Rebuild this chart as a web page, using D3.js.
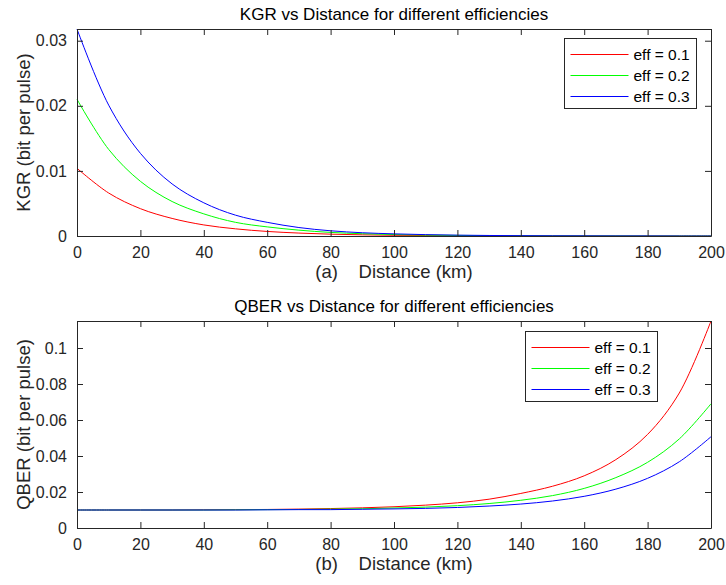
<!DOCTYPE html>
<html>
<head>
<meta charset="utf-8">
<script src="https://cdn.jsdelivr.net/npm/d3@7"></script>
<style>
  body { margin: 0; background: #fff; }
  svg { display: block; font-family: "Liberation Sans", Arial, sans-serif; }
</style>
</head>
<body>
<svg id="chart" width="726" height="585"></svg>
<script>
// distance in km, same grid for every series
var distance = [0, 10, 20, 30, 40, 50, 60, 70, 80, 90, 100, 110, 120, 130, 140, 150, 160, 170, 180, 190, 200];
var xTicks = [0, 20, 40, 60, 80, 100, 120, 140, 160, 180, 200];

var effLabels = ['eff = 0.1', 'eff = 0.2', 'eff = 0.3'];
var effColors = ['#ff0000', '#00ff00', '#0000ff'];

// key generation rate (bit per pulse)
var kgrEff1 = [0.0104, 0.0066, 0.0042, 0.0027, 0.0017, 0.0011, 0.0007, 0.00045, 0.00028, 0.00018, 0.00011, 0.00007, 0.00004, 0.00003, 0.00002, 0.00001, 0.00001, 0, 0, 0, 0];
var kgrEff2 = [0.0210, 0.0133, 0.0084, 0.0053, 0.0034, 0.0021, 0.0014, 0.0009, 0.00055, 0.00035, 0.00022, 0.00014, 0.00009, 0.00006, 0.00004, 0.00002, 0.00001, 0.00001, 0, 0, 0];
var kgrEff3 = [0.0318, 0.0201, 0.0127, 0.0080, 0.0051, 0.0032, 0.0021, 0.0013, 0.0008, 0.0005, 0.00033, 0.00021, 0.00013, 0.00008, 0.00005, 0.00003, 0.00002, 0.00001, 0.00001, 0, 0];
var kgrTicks = [0, 0.01, 0.02, 0.03];

// quantum bit error rate
var qberEff1 = [0.0100, 0.0100, 0.0100, 0.0100, 0.0101, 0.0102, 0.0103, 0.0105, 0.0108, 0.0112, 0.0118, 0.0127, 0.0140, 0.0160, 0.0192, 0.0232, 0.0290, 0.0380, 0.0520, 0.0750, 0.1150];
var qberEff2 = [0.0100, 0.0100, 0.0100, 0.0100, 0.0100, 0.0101, 0.0102, 0.0103, 0.0105, 0.0107, 0.0111, 0.0116, 0.0124, 0.0136, 0.0154, 0.0180, 0.0220, 0.0280, 0.0365, 0.0495, 0.0690];
var qberEff3 = [0.0100, 0.0100, 0.0100, 0.0100, 0.0100, 0.0100, 0.0101, 0.0102, 0.0102, 0.0104, 0.0106, 0.0109, 0.0114, 0.0122, 0.0133, 0.0150, 0.0176, 0.0216, 0.0276, 0.0368, 0.0507];
var qberTicks = [0, 0.02, 0.04, 0.06, 0.08, 0.1];

var axisColor = '#262626';
var tickSize = 6;

function drawPanel(svg, cfg) {
    var left = 77, right = 711;
    var top = cfg.top, bottom = cfg.top + 207;

    var x = d3.scaleLinear().domain([0, 200]).range([left, right]);
    var y = d3.scaleLinear().domain([0, cfg.yMax]).range([bottom, top]);

    var g = svg.append('g');

    // curves
    var line = d3.line()
        .x(function(d) { return x(d.x); })
        .y(function(d) { return y(d.y); })
        .curve(d3.curveCatmullRom.alpha(0.5));

    cfg.series.forEach(function(values, i) {
        var pts = distance.map(function(d, j) { return { x: d, y: values[j] }; });
        g.append('path')
            .datum(pts)
            .attr('fill', 'none')
            .attr('stroke', effColors[i])
            .attr('stroke-width', 1)
            .attr('d', line);
    });

    // axes, ticks point inwards on all four sides
    var fmt = function(d) { return d === 0 ? '0' : String(+d.toFixed(3)); };
    var axes = [
        { ax: d3.axisBottom(x).tickValues(xTicks).tickFormat(d3.format('d')).tickPadding(11), t: 'translate(0,' + bottom + ')' },
        { ax: d3.axisTop(x).tickValues(xTicks).tickFormat(''), t: 'translate(0,' + top + ')' },
        { ax: d3.axisLeft(y).tickValues(cfg.yTicks).tickFormat(fmt).tickPadding(10), t: 'translate(' + left + ',0)' },
        { ax: d3.axisRight(y).tickValues(cfg.yTicks).tickFormat(''), t: 'translate(' + right + ',0)' }
    ];
    axes.forEach(function(a) {
        var ag = g.append('g').attr('transform', a.t).call(a.ax.tickSize(-tickSize).tickSizeOuter(0));
        ag.select('.domain').attr('stroke', axisColor);
        ag.selectAll('.tick line').attr('stroke', axisColor);
        ag.selectAll('.tick text').attr('fill', axisColor).style('font-size', '16px');
    });

    // title
    g.append('text')
        .attr('x', (left + right) / 2)
        .attr('y', top - 9)
        .attr('text-anchor', 'middle')
        .attr('fill', '#000')
        .style('font-size', '17px')
        .text(cfg.title);

    // axis labels
    g.append('text')
        .attr('x', (left + right) / 2)
        .attr('y', bottom + 42)
        .attr('text-anchor', 'middle')
        .attr('fill', axisColor)
        .attr('xml:space', 'preserve')
        .style('font-size', '18.5px')
        .style('white-space', 'pre')
        .text(cfg.xLabel);

    g.append('text')
        .attr('transform', 'translate(30,' + (top + bottom) / 2 + ') rotate(-90)')
        .attr('text-anchor', 'middle')
        .attr('fill', axisColor)
        .style('font-size', '18.5px')
        .text(cfg.yLabel);

    // legend
    var lg = g.append('g').attr('transform', 'translate(' + cfg.legend[0] + ',' + cfg.legend[1] + ')');
    lg.append('rect')
        .attr('width', 132).attr('height', 70)
        .attr('fill', '#fff')
        .attr('stroke', axisColor).attr('stroke-width', 1);
    effLabels.forEach(function(lbl, i) {
        var ry = 16 + i * 21;
        lg.append('line')
            .attr('x1', 6).attr('x2', 64)
            .attr('y1', ry).attr('y2', ry)
            .attr('stroke', effColors[i]).attr('stroke-width', 1);
        lg.append('text')
            .attr('x', 69).attr('y', ry + 5.5)
            .attr('fill', '#000')
            .style('font-size', '15.5px')
            .text(lbl);
    });
}

var svg = d3.select('#chart');

drawPanel(svg, {
    top: 29,
    yMax: 0.0318,
    yTicks: kgrTicks,
    series: [kgrEff1, kgrEff2, kgrEff3],
    title: 'KGR vs Distance for different efficiencies',
    xLabel: '(a)    Distance (km)',
    yLabel: 'KGR (bit per pulse)',
    legend: [564.5, 38.5]
});

drawPanel(svg, {
    top: 321,
    yMax: 0.115,
    yTicks: qberTicks,
    series: [qberEff1, qberEff2, qberEff3],
    title: 'QBER vs Distance for different efficiencies',
    xLabel: '(b)    Distance (km)',
    yLabel: 'QBER (bit per pulse)',
    legend: [525.5, 331.5]
});
</script>
</body>
</html>
